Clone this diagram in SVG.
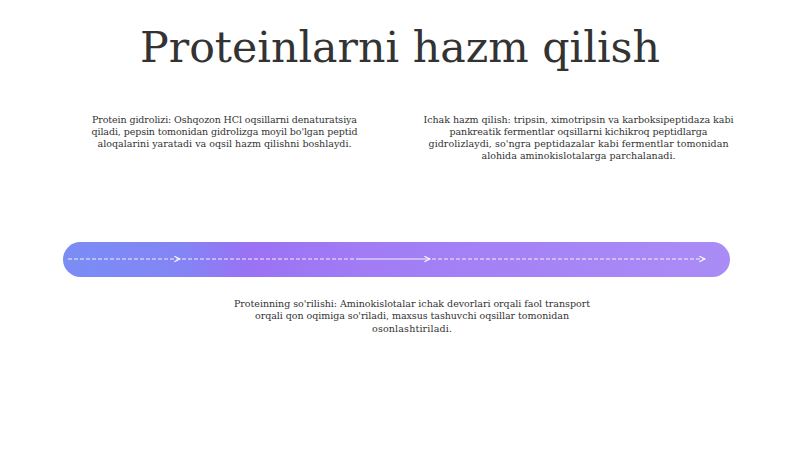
<svg xmlns="http://www.w3.org/2000/svg" width="800" height="449" viewBox="0 0 800 449">
<defs>
<style>
.t{font-family:"DejaVu Serif","Liberation Serif",serif;fill:#333}
.b{font-family:"DejaVu Serif","Liberation Serif",serif;font-size:9.5px;fill:#333;text-anchor:middle}
.c{fill:none;stroke:#fff;stroke-width:1.2;stroke-opacity:0.9}
.d{stroke-dasharray:4 2}
</style>
<linearGradient id="g" x1="0" y1="0" x2="1" y2="0">
<stop offset="0" stop-color="#7a8df5"/>
<stop offset="0.18" stop-color="#8484f5"/>
<stop offset="0.28" stop-color="#9a72f4"/>
<stop offset="0.45" stop-color="#a17cf5"/>
<stop offset="1" stop-color="#aa8cf6"/>
</linearGradient>
<marker id="a" viewBox="0 0 10 10" refX="9" refY="5" markerWidth="7" markerHeight="7" markerUnits="userSpaceOnUse" orient="auto">
<path d="M1,1 L9,5 L1,9" fill="none" stroke="#fff" stroke-width="1.5"/>
</marker>
</defs>
<rect width="800" height="449" fill="#fff"/>
<text class="t" x="400" y="62" font-size="43" text-anchor="middle" textLength="520" lengthAdjust="spacingAndGlyphs">Proteinlarni hazm qilish</text>
<g id="track">
<rect x="63" y="242" width="667" height="35" rx="17.5" fill="url(#g)"/>
</g>
<g id="connectors">
<path class="c d" d="M68,259 H180" marker-end="url(#a)"/>
<path class="c d" d="M182,259 H356"/>
<path class="c" d="M356,259 H430" marker-end="url(#a)"/>
<path class="c d" d="M432,259 H705" marker-end="url(#a)"/>
</g>
<g id="node-gidroliz">
<text class="b" x="224.5" y="122.5" textLength="265" lengthAdjust="spacing">Protein gidrolizi: Oshqozon HCl oqsillarni denaturatsiya</text>
<text class="b" x="224.5" y="134.5" textLength="266" lengthAdjust="spacing">qiladi, pepsin tomonidan gidrolizga moyil bo'lgan peptid</text>
<text class="b" x="224.5" y="146.5" textLength="254" lengthAdjust="spacing">aloqalarini yaratadi va oqsil hazm qilishni boshlaydi.</text>
</g>
<g id="node-ichak">
<text class="b" x="578.5" y="122.5" textLength="310" lengthAdjust="spacing">Ichak hazm qilish: tripsin, ximotripsin va karboksipeptidaza kabi</text>
<text class="b" x="578.5" y="134.5" textLength="258" lengthAdjust="spacing">pankreatik fermentlar oqsillarni kichikroq peptidlarga</text>
<text class="b" x="578.5" y="146.5" textLength="300" lengthAdjust="spacing">gidrolizlaydi, so'ngra peptidazalar kabi fermentlar tomonidan</text>
<text class="b" x="578.5" y="158.5" textLength="194" lengthAdjust="spacing">alohida aminokislotalarga parchalanadi.</text>
</g>
<g id="node-sorilish">
<text class="b" x="412" y="307" textLength="356" lengthAdjust="spacing">Proteinning so'rilishi: Aminokislotalar ichak devorlari orqali faol transport</text>
<text class="b" x="412" y="319" textLength="314" lengthAdjust="spacing">orqali qon oqimiga so'riladi, maxsus tashuvchi oqsillar tomonidan</text>
<text class="b" x="412" y="331.5" textLength="80" lengthAdjust="spacing">osonlashtiriladi.</text>
</g>
</svg>
